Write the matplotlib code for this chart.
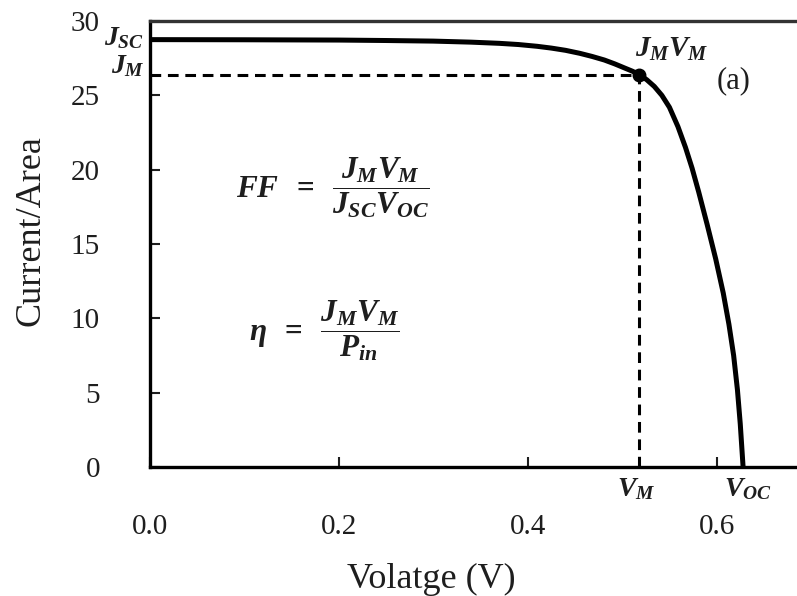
import matplotlib
matplotlib.use('Agg')
import matplotlib.pyplot as plt

# J-V curve of the cell, read point by point
volt = [0.0, 0.10, 0.20, 0.25, 0.30, 0.34, 0.37, 0.39, 0.41, 0.425,
        0.44, 0.455, 0.468, 0.481, 0.492, 0.503, 0.511, 0.518, 0.526,
        0.534, 0.542, 0.550, 0.559, 0.567, 0.574, 0.581, 0.590, 0.599,
        0.607, 0.613, 0.618, 0.622, 0.625, 0.628]
curr = [28.75, 28.74, 28.72, 28.69, 28.65, 28.58, 28.50, 28.42, 28.30, 28.18,
        28.03, 27.83, 27.62, 27.38, 27.12, 26.83, 26.62, 26.40, 26.05,
        25.60, 25.00, 24.20, 22.90, 21.50, 20.10, 18.50, 16.30, 14.00,
        11.70, 9.60, 7.50, 5.20, 2.90, 0.0]

# maximum power point
v_m = 0.518
j_m = 26.4
j_sc = 28.75
v_oc = 0.628

xticks = [0.0, 0.2, 0.4, 0.6]
xticklabels = ['0.0', '0.2', '0.4', '0.6']
yticks = [0, 5, 10, 15, 20, 25, 30]

plt.rcParams['font.family'] = 'Liberation Serif'
plt.rcParams['mathtext.fontset'] = 'custom'
plt.rcParams['mathtext.it'] = 'Liberation Serif:italic:bold'
plt.rcParams['mathtext.rm'] = 'Liberation Serif:bold'
plt.rcParams['mathtext.bf'] = 'Liberation Serif:bold'

txt = '#1e1e1e'

fig = plt.figure(figsize=(7.97, 5.96), dpi=100)
ax = fig.add_axes([0.1882, 0.2164, 0.82, 0.7483])

ax.plot(volt, curr, color='black', lw=3.6, solid_capstyle='round',
        solid_joinstyle='round', zorder=3)

# dashed guides to the max power point
ax.plot([0, v_m], [j_m, j_m], color='black', lw=2.2, ls=(0, (3.5, 2.2)), zorder=2)
ax.plot([v_m, v_m], [0, j_m], color='black', lw=2.2, ls=(0, (3.5, 2.2)), zorder=2)
ax.plot([v_m], [j_m], 'o', color='black', ms=9, zorder=4)

ax.set_xlim(0, 0.692)
ax.set_ylim(0, 30)
ax.spines['right'].set_visible(False)
for s in ['left', 'bottom', 'top']:
    ax.spines[s].set_linewidth(2.4)
ax.spines['top'].set_color('#333333')

ax.set_xticks(xticks)
ax.set_xticklabels(xticklabels)
ax.set_yticks(yticks)
ax.tick_params(direction='in', length=7, width=1.5, labelsize=21, colors=txt)
ax.tick_params(axis='x', pad=34)
ax.tick_params(axis='y', pad=36)

ax.set_xlabel('Volatge (V)', fontsize=26, color=txt)
ax.xaxis.set_label_coords(0.43, -0.215)
ax.set_ylabel('Current/Area', fontsize=26, color=txt)
ax.yaxis.set_label_coords(-0.157, 0.53)

# labels on the curve
ax.text(-0.006, j_sc + 0.1, r'$J_{SC}$', fontsize=20, color=txt,
        ha='right', va='center', clip_on=False)
ax.text(-0.006, j_m + 0.55, r'$J_{M}$', fontsize=20, color=txt,
        ha='right', va='center', clip_on=False)
ax.text(v_m - 0.004, 28.1, r'$J_{M}V_{M}$', fontsize=21, color=txt,
        ha='left', va='center')
ax.text(0.600, 26.0, '(a)', fontsize=22, color=txt, ha='left', va='center')
ax.text(v_m - 0.024, -1.5, r'$V_{M}$', fontsize=20, color=txt,
        ha='left', va='center', clip_on=False)
ax.text(v_oc - 0.020, -1.5, r'$V_{OC}$', fontsize=20, color=txt,
        ha='left', va='center', clip_on=False)

# efficiency formulas
ax.text(0.091, 18.8, r'$FF\;\;=\;\;\dfrac{J_{M}V_{M}}{J_{SC}V_{OC}}$', fontsize=22.5,
        color=txt, ha='left', va='center')
ax.text(0.105, 9.2, r'$\eta\;\;=\;\;\dfrac{J_{M}V_{M}}{P_{in}}$', fontsize=22.5,
        color=txt, ha='left', va='center')

fig.savefig('out.png', dpi=100)
